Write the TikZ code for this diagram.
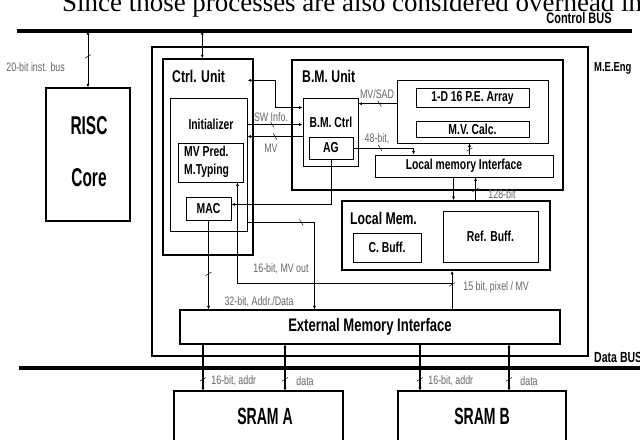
\documentclass[tikz,border=0pt]{standalone}
\usepackage{fontspec}
\setmainfont{Liberation Serif}
\newfontfamily\condfont[FakeStretch=0.72]{Liberation Sans}
\newfontfamily\heavyfont[FakeStretch=0.6]{Liberation Sans}
\usetikzlibrary{arrows.meta,positioning,fit,calc,decorations.markings}

\tikzset{
  blk/.style={draw, line width=0.8pt, inner sep=0pt},
  thkblk/.style={draw, line width=1.5pt, inner sep=0pt},
  bus/.style={line width=2.6pt},
  wire/.style={line width=0.5pt, -{Latex[length=3pt,width=2.6pt]}},
  wire2/.style={line width=0.5pt, {Latex[length=3pt,width=2.6pt]}-{Latex[length=3pt,width=2.6pt]}},
  sig/.style={font=\condfont\fontsize{10.5}{12}\selectfont, text=black!60, inner sep=1pt},
  ttl/.style={font=\condfont\bfseries\fontsize{14.5}{16}\selectfont, inner sep=0pt},
  tag/.style={font=\condfont\bfseries\fontsize{#1}{14}\selectfont, inner sep=0pt},
  sub/.style={font=\condfont\bfseries\fontsize{12.3}{14}\selectfont},
  big/.style={font=\heavyfont\bfseries\fontsize{#1}{24}\selectfont},
  slash/.style={postaction={decorate, decoration={markings,
    mark=at position #1 with {\draw[-, line width=0.4pt] (-1.5pt,2.5pt) -- (1.5pt,-2.5pt);}}}},
}

\begin{document}
\begin{tikzpicture}[x=0.3mm, y=-0.3mm]
  \useasboundingbox (0,0) rectangle (640,440);

  % page text above the figure
  \node[anchor=base west, inner sep=0pt, font=\fontsize{23}{26}\selectfont] (head) at (62,12)
    {Since those processes are also considered overhead in};

  % buses
  \coordinate (cbL) at (17,31);
  \coordinate (cbR) at (632,31);
  \coordinate (dbL) at (19,368);
  \coordinate (dbR) at (640,368);
  \draw[bus] (cbL) -- (cbR);
  \draw[bus] (dbL) -- (dbR);
  \node[tag=13] (cbusT) at (579,18) {Control BUS};
  \node[tag=12.5, anchor=west] (dbusT) at (594,357) {Data BUS};

  % RISC core
  \node[blk, line width=1.1pt, fit={(46,88) (130,221)}] (risc) {};
  \node[big=22] (riscT) at (89,126) {RISC};
  \node[big=22] (coreT) at (89,178) {Core};

  % motion estimation engine
  \node[draw, line width=2.4pt, inner sep=0pt, fit={(152,47) (588,356)}] (meng) {};
  \node[tag=11.2, anchor=west] (mengT) at (594,68) {M.E.Eng};

  % control unit
  \node[thkblk, line width=1.2pt, fit={(163,59) (253,255)}] (ctrl) {};
  \node[ttl, anchor=west] (ctrlT) at (172,76) {Ctrl. Unit};
  \node[blk, fit={(170,98) (247,231)}] (init) {};
  \node[sub] (initT) at (211,124) {Initializer};
  \node[blk, fit={(178,143) (243,182)}] (mvp) {};
  \node[sub, align=left, anchor=west, inner sep=0pt] (mvpT) at (184,162) {MV Pred.\\[1pt]M.Typing};
  \node[blk, fit={(186,197) (231,220)}, label={[sub]center:MAC}] (mac) {};

  % block matching unit
  \node[thkblk, line width=1.2pt, fit={(292,60) (563,190)}] (bmu) {};
  \node[ttl, anchor=west] (bmuT) at (302,76) {B.M. Unit};
  \node[blk, line width=0.6pt, fit={(397,80) (548,143)}] (pe) {};
  \node[blk, fit={(416,88) (529,107)}, label={[sub]center:1-D 16 P.E. Array}] (pea) {};
  \node[blk, fit={(416,121) (529,137)}, label={[sub]center:M.V. Calc.}] (mvc) {};
  \node[blk, fit={(303,98) (358,166)}] (bmc) {};
  \node[sub] (bmcT) at (331,122) {B.M. Ctrl};
  \node[blk, fit={(309,137) (353,159)}, label={[sub]center:AG}] (ag) {};
  \node[blk, fit={(375,155) (553,177)}, label={[sub]center:Local memory Interface}] (lmi) {};

  % local memory
  \node[thkblk, fit={(342,201) (550,270)}] (lmem) {};
  \node[ttl, anchor=west] (lmemT) at (350,218) {Local Mem.};
  \node[blk, fit={(353,233) (421,262)}, label={[sub]center:C. Buff.}] (cbuf) {};
  \node[blk, fit={(443,211) (538,262)}, label={[sub]center:Ref. Buff.}] (rbuf) {};

  % external memory interface and SRAMs
  \node[blk, line width=1pt, fit={(180,310) (560,344)},
        label={[tag=15.5]center:External Memory Interface}] (emi) {};
  \node[blk, line width=1pt, fit={(174,391) (343,460)}] (srama) {};
  \node[big=20] (sramaT) at (265,416) {SRAM A};
  \node[blk, line width=1pt, fit={(398,391) (566,460)}] (sramb) {};
  \node[big=20] (srambT) at (482,416) {SRAM B};

  % bus connections
  \coordinate (ctrlTop) at ($(ctrl.north west)+(40,0)$);
  \draw[wire2, slash=0.45] (risc.north |- cbL) -- (risc.north);
  \node[sig, anchor=west] (instT) at (5,67) {20-bit inst. bus};
  \draw[wire2, line width=0.9pt] (ctrlTop |- cbL) -- (ctrlTop);

  % control unit <-> B.M. unit
  \coordinate (ctrlDot) at ($(ctrl.north east)+(-6,22)$);
  \coordinate (bmcIn) at ($(bmc.north west)+(0,10)$);
  \draw[wire2] (ctrlDot) -| ($(ctrlDot)!0.5!(bmcIn)$) |- (bmcIn);
  \coordinate (swA) at ($(bmc.north west)+(0,27)$);
  \draw[wire, slash=0.45] (init.east |- swA) -- (swA);
  \node[sig] (swT) at (271,117) {SW Info.};
  \coordinate (mvA) at ($(bmc.north west)+(0,39)$);
  \draw[wire, slash=0.5] (mvA) -- (init.east |- mvA);
  \node[sig] (mvT) at (271,148) {MV};

  % inside B.M. unit
  \coordinate (sadA) at ($(pe.north west)+(0,24)$);
  \draw[wire, slash=0.45] (sadA) -- (bmc.east |- sadA);
  \node[sig] (sadT) at (377,94) {MV/SAD};
  \coordinate (agOut) at ($(lmi.north west)+(39,0)$);
  \draw[wire, slash=0.4] (ag.east) -| (agOut);
  \node[sig] (agbT) at (377,139) {48-bit,};
  \coordinate (lmiPe) at ($(lmi.north west)+(95,0)$);
  \draw[wire, slash=0.45] (lmiPe) -- (lmiPe |- pe.south);
  \coordinate (lmiDn) at ($(lmi.south west)+(79,0)$);
  \draw[wire] (lmiDn) -- (lmiDn |- lmem.north);
  \coordinate (lmiUp) at ($(lmi.south west)+(101,0)$);
  \draw[wire, slash=0.45] (lmiUp |- lmem.north) -- (lmiUp);
  \node[sig] (wideT) at (502,194) {128-bit};

  % address generator to MAC
  \coordinate (agDn) at ($(ag.south west)+(22,45)$);
  \draw[wire] (ag.south) |- (mac.east |- agDn);

  % control unit to external memory interface
  \draw[wire, slash=0.6] (mac.south) -- (mac.south |- emi.north);
  \node[sig] (macT) at (259,302) {32-bit, Addr./Data};
  \coordinate (initOut) at ($(init.south east)+(67,-9)$);
  \draw[wire, slash=0.35] (init.east |- initOut) -| (initOut |- emi.north);

  % local memory <-> external memory interface, MV out
  \coordinate (lmBot) at ($(lmem.south west)+(111,0)$);
  \draw[wire, slash=0.65] (lmBot |- emi.north) -- (lmBot);
  \node[sig, anchor=west] (pixT) at (462,287) {15 bit, pixel / MV};
  \coordinate (mvOut) at ($(lmBot)+(0,12)$);
  \coordinate (mvpIn) at ($(mvp.south east)+(-6,0)$);
  \draw[wire] (mvOut) -| (mvpIn);
  \node[sig] (mvoT) at (281,269) {16-bit, MV out};

  % external memory interface to SRAMs
  \foreach \sx/\nm in {203/a, 420/b} {
    \draw[wire, line width=1pt, slash=0.75] (\sx,344) -- (\sx,391);
    \node[sig, anchor=west] (addr\nm) at (\sx+7,381) {16-bit, addr};
  }
  \foreach \sx/\nm in {285/a, 509/b} {
    \draw[wire2, line width=1pt, slash=0.75] (\sx,344) -- (\sx,391);
    \node[sig, anchor=west] (data\nm) at (\sx+10,381) {data};
  }
\end{tikzpicture}
\end{document}
